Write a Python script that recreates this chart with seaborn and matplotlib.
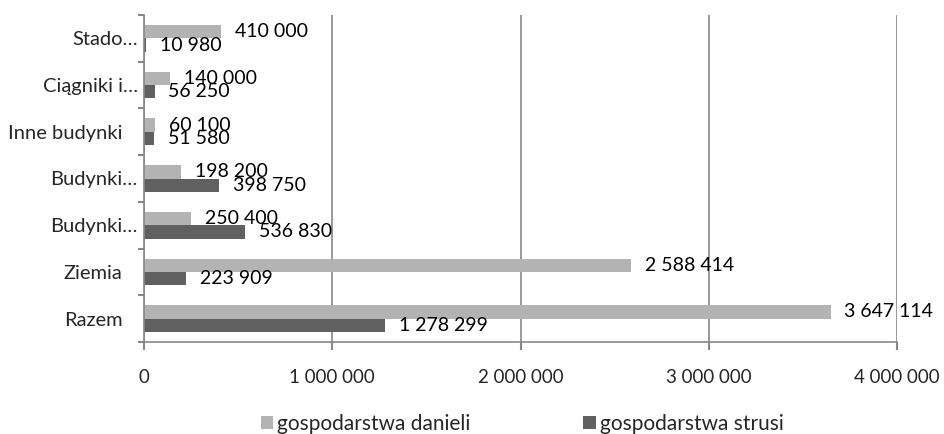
import matplotlib
matplotlib.use("Agg")
import matplotlib.pyplot as plt
import matplotlib.transforms as mtransforms
from matplotlib.patches import Patch
import pandas as pd
import seaborn as sns

# categories listed top to bottom
categories = ["Stado…", "Ciągniki i…", "Inne budynki", "Budynki…", "Budynki… ", "Ziemia", "Razem"]
series_names = ["gospodarstwa danieli", "gospodarstwa strusi"]
danieli = [410000, 140000, 60100, 198200, 250400, 2588414, 3647114]
strusi = [10980, 56250, 51580, 398750, 536830, 223909, 1278299]
x_ticks = [0, 1000000, 2000000, 3000000, 4000000]

LIGHT = "#b3b3b3"
DARK = "#606060"
GRID = "#878787"

df = pd.DataFrame({
    "kategoria": categories * 2,
    "seria": [series_names[0]] * len(categories) + [series_names[1]] * len(categories),
    "wartosc": danieli + strusi,
})

sns.set_theme(style="white")
plt.rcParams["font.family"] = ["Lato", "DejaVu Sans"]
plt.rcParams["ytick.left"] = True
plt.rcParams["xtick.bottom"] = True

fig = plt.figure(figsize=(9.44, 4.34), dpi=100)
ax = fig.add_axes([144 / 944, 1 - 342 / 434, (897 - 144) / 944, (342 - 15) / 434])

sns.barplot(
    data=df, y="kategoria", x="wartosc", hue="seria", order=categories,
    hue_order=series_names, palette=[LIGHT, DARK], orient="h",
    width=0.57, linewidth=0, saturation=1, legend=False, ax=ax,
)

fmt = lambda v: f"{int(round(v)):,}".replace(",", " ")
for cont in ax.containers:
    ax.bar_label(cont, labels=[fmt(b.get_width()) for b in cont],
                 padding=10, fontsize=14, color="black")

ax.set_xlim(0, 4000000)
ax.set_ylim(len(categories) - 0.5, -0.5)
ax.set_xticks(x_ticks)
ax.set_xticklabels([fmt(v) for v in x_ticks], fontsize=13.5)
ax.set_xlabel("")
ax.set_ylabel("")

# category boundaries as y ticks
ax.set_yticks([i - 0.5 for i in range(len(categories) + 1)], minor=True)
ax.tick_params(which="both", left=True, bottom=True)
ax.tick_params(axis="y", which="major", length=0, pad=4.5, labelsize=14.5)
ax.tick_params(axis="y", which="minor", length=4.5, width=1.5, color=GRID, direction="out")
ax.tick_params(axis="x", which="major", length=5.5, width=1.5, color=GRID, direction="out", pad=14)
ax.set_yticklabels([c.strip() for c in categories])

# labels without ellipsis sit a little further left
for lbl in ax.get_yticklabels():
    if not lbl.get_text().endswith("…"):
        lbl.set_transform(lbl.get_transform() + mtransforms.ScaledTranslation(-15 / 100, 0, fig.dpi_scale_trans))

ax.xaxis.grid(True, color=GRID, linewidth=1.2)
ax.set_axisbelow(True)
for side in ["top", "right"]:
    ax.spines[side].set_visible(False)
for side in ["left", "bottom"]:
    ax.spines[side].set_color(GRID)
    ax.spines[side].set_linewidth(1.2)

handles = [Patch(facecolor=LIGHT, edgecolor="none"), Patch(facecolor=DARK, edgecolor="none")]
fig.legend(handles, series_names, loc="center", bbox_to_anchor=(522 / 944, 1 - 424 / 434),
           ncol=2, frameon=False, fontsize=15, handlelength=0.6, handleheight=0.55,
           handletextpad=0.2, columnspacing=5.4)

fig.savefig("out.png", dpi=100)
